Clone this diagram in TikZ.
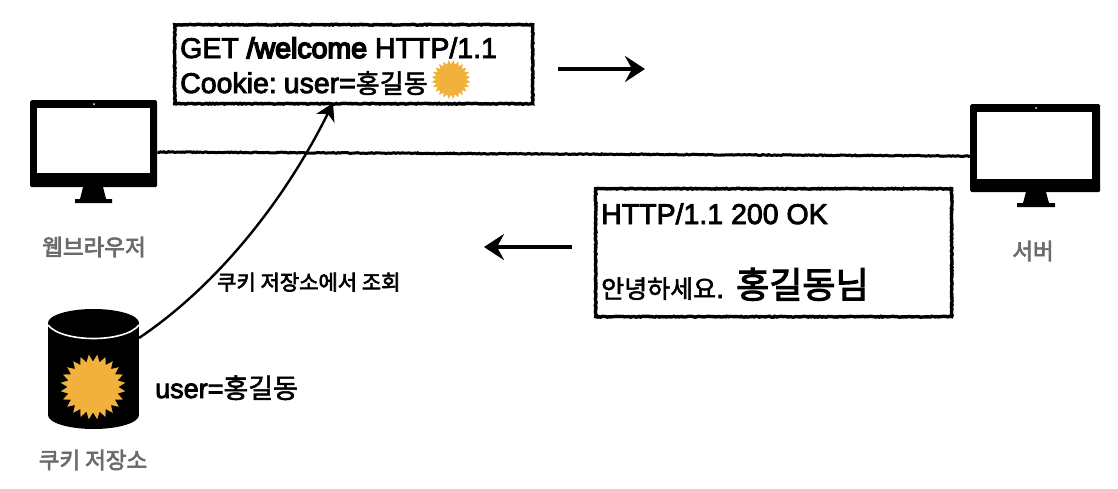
\documentclass[tikz,border=0pt]{standalone}
\usepackage{fontspec}
\setmainfont{Liberation Sans}[FakeBold=3]
\newfontfamily\krfont{Noto Sans CJK KR}[FakeBold=2]
\newfontfamily\krbold{Noto Sans CJK KR}[FakeBold=3]
\newfontfamily\wfont{Liberation Sans}[FakeBold=5.5]
\usetikzlibrary{arrows.meta,decorations.pathmorphing,shapes.geometric}
\definecolor{sunYellow}{HTML}{F2B13C}
\definecolor{labelGray}{HTML}{6B6B6B}
\newcommand{\msgSize}{\fontsize{28.5}{32}\selectfont}
\newcommand{\krSize}{\fontsize{25}{28}\selectfont}
\newcommand{\cookieSize}{\fontsize{26}{28}\selectfont}
\newcommand{\grpSize}{\fontsize{22.5}{26}\selectfont}
\newcommand{\stepSize}{\fontsize{21}{24}\selectfont}
\tikzset{
	rough/.style={decorate,decoration={random steps,segment length=1.6pt,amplitude=0.45pt}},
	msgBox/.style={draw=black,line width=3.4pt,rough,anchor=north west,inner sep=0pt},
	msgText/.style={anchor=base west,inner sep=0pt,font=\msgSize},
	wire/.style={draw=black,line width=3pt,rough},
	moveArrow/.style={draw=black,line width=3.4pt,-{Stealth[length=20pt,width=26pt,inset=7pt]}},
	grayText/.style={text=labelGray,inner sep=0pt,font=\grpSize\krbold},
	monitorCase/.style={draw=none,fill=black,rounded corners=1.5pt,inner sep=0pt,anchor=north west},
	monitorScreen/.style={draw=none,fill=white,inner sep=0pt,anchor=north west},
	sun/.style={star,star points=24,star point ratio=1.28,fill=sunYellow,draw=none,inner sep=0pt,rotate=7.5}
}
\begin{document}
\begin{tikzpicture}[x=1pt,y=-1pt]
	\useasboundingbox (0,0) rectangle (1118,488);

	% web browser
	\node[monitorCase,minimum width=127pt,minimum height=87pt] (browser) at (30,100) {};
	\node[monitorScreen,minimum width=113pt,minimum height=65pt] (browserScreen) at (37,108) {};
	\fill[white] (94,104) circle (1pt);
	\fill (83,187) -- (103,187) -- (106,199) -- (112,199) -- (112,203) -- (75,203) -- (75,199) -- (80,199) -- cycle;
	\node[grayText] (browserLabel) at (94,247) {웹브라우저};

	% server
	\node[monitorCase,minimum width=130pt,minimum height=88pt] (server) at (970,104) {};
	\node[monitorScreen,minimum width=115pt,minimum height=67pt] (serverScreen) at (977,112) {};
	\fill[white] (1036,108) circle (1pt);
	\fill (1026,192) -- (1046,192) -- (1049,203) -- (1055,203) -- (1055,207) -- (1017,207) -- (1017,203) -- (1023,203) -- cycle;
	\node[grayText] (serverLabel) at (1033,251) {서버};

	\draw[wire] (browser.east |- 0,152) -- (server.west |- 0,156);

	% request
	\node[msgBox,minimum width=358pt,minimum height=79pt] (request) at (173,23) {};
	\node[msgText] (requestLine) at (180,58) {GET {\wfont /welcome} HTTP/1.1};
	\node[msgText] (cookieLine) at (180,93) {Cookie:\hspace{7pt}user={\krfont\cookieSize 홍길동}};
	\node[sun,minimum size=39pt] (requestSun) at (451,79.5) {};
	\coordinate (requestFrom) at (558,69);
	\coordinate (requestTo) at (645,69);
	\draw[moveArrow] (requestFrom) -- (requestTo);

	% response
	\node[msgBox,minimum width=356pt,minimum height=128pt] (response) at (594,187) {};
	\node[msgText] (statusLine) at (601,224) {HTTP/1.1 200 OK};
	\node[msgText] (helloLine) at (601,298) {{\krfont\krSize 안녕하세요}.};
	\node[anchor=base west,inner sep=0pt,font=\fontsize{36}{40}\selectfont\krbold] (nameLine) at (736,298) {홍길동님};
	\coordinate (responseFrom) at (572,247);
	\coordinate (responseTo) at (484,247);
	\draw[moveArrow] (responseFrom) -- (responseTo);

	% cookie store
	\fill (93.5,323) ellipse [x radius=45.5,y radius=14];
	\fill (48,323) rectangle (139,415);
	\fill (93.5,415) ellipse [x radius=45.5,y radius=14];
	\draw[white,line width=1.6pt] (48,325) .. controls (62,343) and (125,343) .. (139,325);
	\node[sun,minimum size=65pt] (storeSun) at (93,387) {};
	\node[grayText] (storeLabel) at (93,460) {쿠키 저장소};
	\node[anchor=base west,inner sep=0pt,font=\fontsize{27}{30}\selectfont] (storeValue) at (155,398) {user={\krfont 홍길동}};

	% lookup
	\coordinate (lookupFrom) at (139,338);
	\draw[draw=black,line width=2.4pt,-{Stealth[length=17pt,width=20pt,inset=5pt]}] (lookupFrom) .. controls (225,280) and (290,190) .. (333,103);
	\node[anchor=base west,inner sep=0pt,font=\stepSize\krbold] (lookupLabel) at (217,290) {쿠키 저장소에서 조회};
\end{tikzpicture}
\end{document}
